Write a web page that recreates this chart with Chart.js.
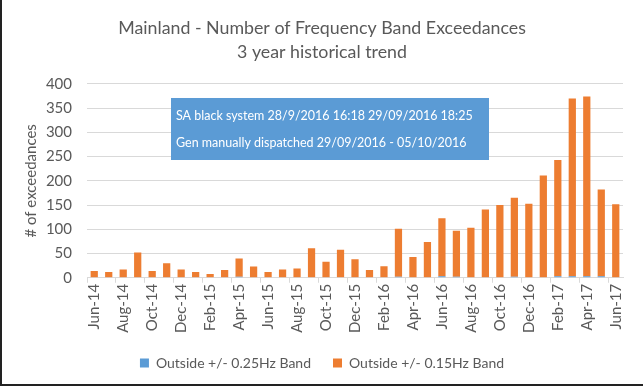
<!DOCTYPE html>
<html lang="en">
<head>
    <meta charset="UTF-8">
    <title>Mainland - Number of Frequency Band Exceedances</title>
    <script src="https://cdn.jsdelivr.net/npm/chart.js@4/dist/chart.umd.min.js"></script>
    <style>
        html, body { margin: 0; padding: 0; background: #fff; }
        #wrap { position: relative; width: 643px; height: 386px; }
        #frame { position: absolute; left: 0; top: 0; width: 641px; height: 384px;
                 border-left: 2px solid #222; border-bottom: 2px solid #222; pointer-events: none; }
    </style>
</head>
<body>
<div id="wrap">
    <canvas id="myChart" width="643" height="386"></canvas>
    <div id="frame"></div>
</div>

<script>
    // Months shown on the category axis
    const months = [
        'Jun-14', 'Jul-14', 'Aug-14', 'Sep-14', 'Oct-14', 'Nov-14', 'Dec-14',
        'Jan-15', 'Feb-15', 'Mar-15', 'Apr-15', 'May-15', 'Jun-15', 'Jul-15',
        'Aug-15', 'Sep-15', 'Oct-15', 'Nov-15', 'Dec-15', 'Jan-16', 'Feb-16',
        'Mar-16', 'Apr-16', 'May-16', 'Jun-16', 'Jul-16', 'Aug-16', 'Sep-16',
        'Oct-16', 'Nov-16', 'Dec-16', 'Jan-17', 'Feb-17', 'Mar-17', 'Apr-17',
        'May-17', 'Jun-17'
    ];

    // Outside +/- 0.25Hz band (tiny, sits at the base of the stack)
    const band025 = [
        0, 0, 0, 0, 0, 0, 0,
        0, 1, 0, 2, 0, 0, 0,
        0, 0, 0, 0, 0, 0, 0,
        2, 0, 0, 3, 2, 0, 0,
        0, 2, 0, 0, 3, 3, 3,
        3, 1
    ];

    // Outside +/- 0.15Hz band
    const band015 = [
        14, 12, 17, 52, 14, 30, 17,
        12, 7, 16, 38, 23, 12, 17,
        19, 61, 33, 58, 38, 16, 24,
        99, 43, 74, 120, 95, 103, 141,
        150, 163, 153, 211, 240, 367, 371,
        179, 151
    ];

    const yTicks = [0, 50, 100, 150, 200, 250, 300, 350, 400];

    const noteLines = [
        'SA black system 28/9/2016 16:18 29/09/2016 18:25',
        'Gen manually dispatched 29/09/2016 - 05/10/2016'
    ];

    const textGrey = '#595959';
    const baseFont = "Lato, 'Open Sans', sans-serif";

    // Blue call-out box drawn on top of the plot
    const notePlugin = {
        id: 'note',
        afterDatasetsDraw(chart) {
            const ctx = chart.ctx;
            const area = chart.chartArea;
            const x = area.left + 84, y = area.top + 14, w = 318, h = 62;
            ctx.save();
            ctx.fillStyle = '#5b9bd5';
            ctx.fillRect(x, y, w, h);
            // size the text so the first line spans about the same width as the original
            ctx.font = '14px ' + baseFont;
            const size = 14 * 297 / ctx.measureText(noteLines[0]).width;
            ctx.font = size.toFixed(2) + 'px ' + baseFont;
            ctx.fillStyle = '#ffffff';
            ctx.textBaseline = 'middle';
            ctx.fillText(noteLines[0], x + 5, y + 18);
            ctx.fillText(noteLines[1], x + 5, y + 45);
            ctx.restore();
        }
    };

    const ctx = document.getElementById('myChart').getContext('2d');
    const chart = new Chart(ctx, {
        type: 'bar',
        data: {
            labels: months,
            datasets: [{
                label: 'Outside +/- 0.25Hz Band',
                data: band025,
                backgroundColor: '#5b9bd5',
                barPercentage: 0.5,
                categoryPercentage: 1
            }, {
                label: 'Outside +/- 0.15Hz Band',
                data: band015,
                backgroundColor: '#ed7d31',
                barPercentage: 0.5,
                categoryPercentage: 1
            }]
        },
        options: {
            responsive: false,
            animation: false,
            layout: { padding: { left: 21, right: 20, top: 0, bottom: 6 } },
            plugins: {
                title: {
                    display: true,
                    text: ['Mainland - Number of Frequency Band Exceedances', '3 year historical trend'],
                    color: textGrey,
                    font: { family: baseFont, size: 17.8, weight: 'normal', lineHeight: 1.32 },
                    padding: { top: 17, bottom: 20 }
                },
                legend: {
                    position: 'bottom',
                    labels: {
                        color: textGrey,
                        font: { family: baseFont, size: 14 },
                        boxWidth: 9,
                        boxHeight: 9,
                        padding: 22
                    }
                },
                tooltip: { enabled: false }
            },
            scales: {
                x: {
                    stacked: true,
                    grid: {
                        offset: true,
                        drawOnChartArea: false,
                        tickLength: 5,
                        color: (c) => (c.index % 2 === 0 ? '#d9d9d9' : 'rgba(0,0,0,0)')
                    },
                    border: { color: '#d9d9d9' },
                    ticks: {
                        autoSkip: false,
                        minRotation: 90,
                        maxRotation: 90,
                        padding: 1,
                        color: textGrey,
                        font: { family: baseFont, size: 15 },
                        callback: function (val, i) { return i % 2 === 0 ? this.getLabelForValue(val) : ''; }
                    }
                },
                y: {
                    stacked: true,
                    min: 0,
                    max: 400,
                    afterFit: (scale) => { scale.width = 66; },
                    afterBuildTicks: (scale) => { scale.ticks = yTicks.map(v => ({ value: v })); },
                    grid: { color: '#d9d9d9', drawTicks: false },
                    border: { display: false },
                    ticks: {
                        padding: 15,
                        color: textGrey,
                        font: { family: baseFont, size: 15 }
                    },
                    title: {
                        display: true,
                        text: '# of exceedances',
                        color: textGrey,
                        font: { family: baseFont, size: 15 },
                        padding: { top: 1, bottom: 0 }
                    }
                }
            }
        },
        plugins: [notePlugin]
    });
</script>
</body>
</html>
